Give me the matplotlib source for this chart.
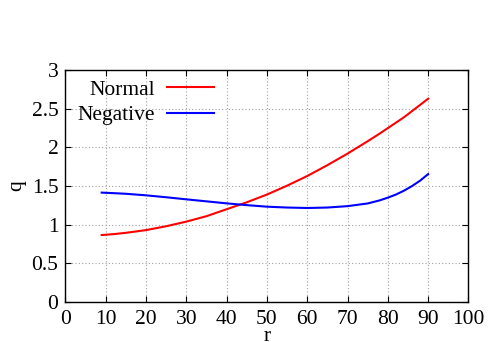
import matplotlib
matplotlib.use("Agg")
import matplotlib.pyplot as plt

r_vals = [9, 12, 15, 20, 25, 30, 35, 40, 45, 50, 55, 60, 65, 70, 75, 78, 80, 82, 84, 86, 88, 90]
normal_q = [0.866, 0.878, 0.895, 0.93, 0.98, 1.04, 1.11, 1.20, 1.29, 1.39, 1.505, 1.63, 1.77, 1.92, 2.08, 2.18, 2.25, 2.32, 2.39, 2.47, 2.55, 2.63]
negative_q = [1.415, 1.408, 1.40, 1.38, 1.355, 1.328, 1.302, 1.276, 1.253, 1.233, 1.222, 1.216, 1.222, 1.24, 1.275, 1.315, 1.35, 1.39, 1.44, 1.50, 1.57, 1.655]

xticks = [0, 10, 20, 30, 40, 50, 60, 70, 80, 90, 100]
yticks = [0, 0.5, 1, 1.5, 2, 2.5, 3]
ytick_labels = ["0", "0.5", "1", "1.5", "2", "2.5", "3"]

plt.rcParams['font.family'] = ['Liberation Serif', 'DejaVu Serif']
plt.rcParams['font.size'] = 15.5

fig = plt.figure(figsize=(4.88, 3.42), dpi=100)
ax = fig.add_axes([0.134, 0.117, 0.826, 0.678])

ax.plot(r_vals, normal_q, color='#ff0000', lw=1.5, label='Normal')
ax.plot(r_vals, negative_q, color='#0000ff', lw=1.5, label='Negative')

ax.set_xlim(0, 100)
ax.set_ylim(0, 3)
ax.set_xticks(xticks)
ax.set_yticks(yticks)
ax.set_yticklabels(ytick_labels)
ax.tick_params(direction='in', top=True, right=True, length=4, width=0.8)
ax.tick_params(axis='x', pad=6)
ax.tick_params(axis='y', pad=5)
for s in ax.spines.values():
    s.set_linewidth(1.0)
ax.grid(True, color='#a0a0a0', linestyle=(0, (1, 2)), linewidth=0.8)
ax.set_axisbelow(True)

ax.set_xlabel('r', va='baseline')
ax.xaxis.set_label_coords(0.5, -0.168)
ax.set_ylabel('q', labelpad=4)

leg = ax.legend(loc='upper left', frameon=False, markerfirst=False,
                handlelength=2.2, handletextpad=0.55, labelspacing=0.25,
                borderaxespad=0.0, borderpad=0.0, fontsize=15.5,
                bbox_to_anchor=(0.03, 0.958))

fig.savefig('out.png', dpi=100)
